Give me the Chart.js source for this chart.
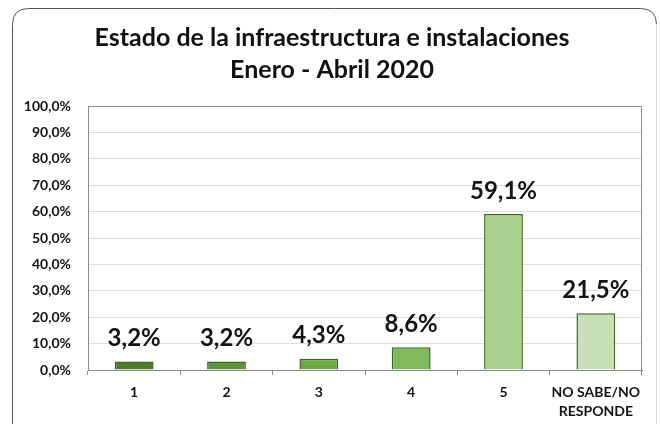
<!DOCTYPE html>
<html>
<head>
<meta charset="utf-8">
<script src="https://cdn.jsdelivr.net/npm/chart.js@4"></script>
<style>
  html, body { margin: 0; padding: 0; background: #ffffff; }
  #wrap { width: 660px; height: 424px; position: relative; }
  canvas { display: block; }
</style>
</head>
<body>
<div id="wrap"><canvas id="c" width="660" height="424"></canvas></div>
<script>
const titleLines = ['Estado de la infraestructura e instalaciones', 'Enero - Abril 2020'];
const categories = ['1', '2', '3', '4', '5', ['NO SABE/NO', 'RESPONDE']];
const values = [3.2, 3.2, 4.3, 8.6, 59.1, 21.5];
const barColors = ['#4c7c2c', '#5a9637', '#6aaa44', '#80ba5c', '#a9d08e', '#c8e0b8'];
const yMin = 0, yMax = 100, yStep = 10;

const FONT = "Lato, 'Open Sans', sans-serif";
const fmt = v => v.toFixed(1).replace('.', ',') + '%';

const framePlugin = {
  id: 'frame',
  beforeDraw(chart) {
    const ctx = chart.ctx;
    ctx.save();
    ctx.fillStyle = '#ffffff';
    ctx.fillRect(0, 0, chart.width, chart.height);
    const l = 12.5, t = 8.5, r = 656.5, b = 440, rad = 16;
    ctx.strokeStyle = '#555555';
    ctx.lineWidth = 1;
    ctx.beginPath();
    ctx.moveTo(l, b);
    ctx.lineTo(l, t + rad);
    ctx.quadraticCurveTo(l, t, l + rad, t);
    ctx.lineTo(r - rad, t);
    ctx.quadraticCurveTo(r, t, r, t + rad);
    ctx.stroke();
    ctx.strokeStyle = '#dddddd';
    ctx.beginPath();
    ctx.moveTo(r, t + rad);
    ctx.lineTo(r, b);
    ctx.stroke();
    ctx.restore();
  },
  afterDraw(chart) {
    const ctx = chart.ctx;
    const a = chart.chartArea;
    ctx.save();
    ctx.strokeStyle = '#8c8c8c';
    ctx.lineWidth = 1;
    ctx.strokeRect(Math.round(a.left) + 0.5, Math.round(a.top) + 0.5,
                   Math.round(a.right - a.left) - 1, Math.round(a.bottom - a.top));
    // data labels
    const meta = chart.getDatasetMeta(0);
    ctx.fillStyle = '#141414';
    ctx.font = "bold 24px " + FONT;
    ctx.textAlign = 'center';
    ctx.textBaseline = 'middle';
    meta.data.forEach((bar, i) => {
      const v = chart.data.datasets[0].data[i];
      ctx.fillText(fmt(v), bar.x, bar.y - 23);
    });
    ctx.restore();
  }
};

new Chart(document.getElementById('c'), {
  type: 'bar',
  data: {
    labels: categories,
    datasets: [{
      data: values,
      backgroundColor: barColors,
      borderColor: '#3e6627',
      borderWidth: 1.5,
      barPercentage: 0.42,
      categoryPercentage: 1
    }]
  },
  options: {
    responsive: false,
    animation: false,
    devicePixelRatio: 1,
    layout: { padding: { left: 22, right: 18, top: 0, bottom: 0 } },
    plugins: {
      legend: { display: false },
      tooltip: { enabled: false },
      title: {
        display: true,
        text: titleLines,
        color: '#111111',
        font: { family: FONT, size: 25, weight: 'bold', lineHeight: 1.28 },
        padding: { top: 22, bottom: 20 }
      }
    },
    scales: {
      y: {
        min: yMin, max: yMax,
        ticks: {
          stepSize: yStep,
          color: '#141414',
          font: { family: FONT, size: 14, weight: 'bold' },
          padding: 17,
          callback: v => fmt(v)
        },
        grid: { color: '#dcdcdc', drawTicks: false },
        border: { display: true, color: '#8c8c8c' },
        afterFit(scale) { scale.width = 66; }
      },
      x: {
        ticks: {
          color: '#141414',
          font: { family: FONT, size: 14, weight: 'bold', lineHeight: 1.35 },
          padding: 8,
          maxRotation: 0, autoSkip: false
        },
        grid: { drawOnChartArea: false, offset: true, tickLength: 5, color: '#8c8c8c' },
        border: { display: true, color: '#7a7a7a' },
        afterFit(scale) { scale.height = 54; }
      }
    }
  },
  plugins: [framePlugin]
});
</script>
</body>
</html>
